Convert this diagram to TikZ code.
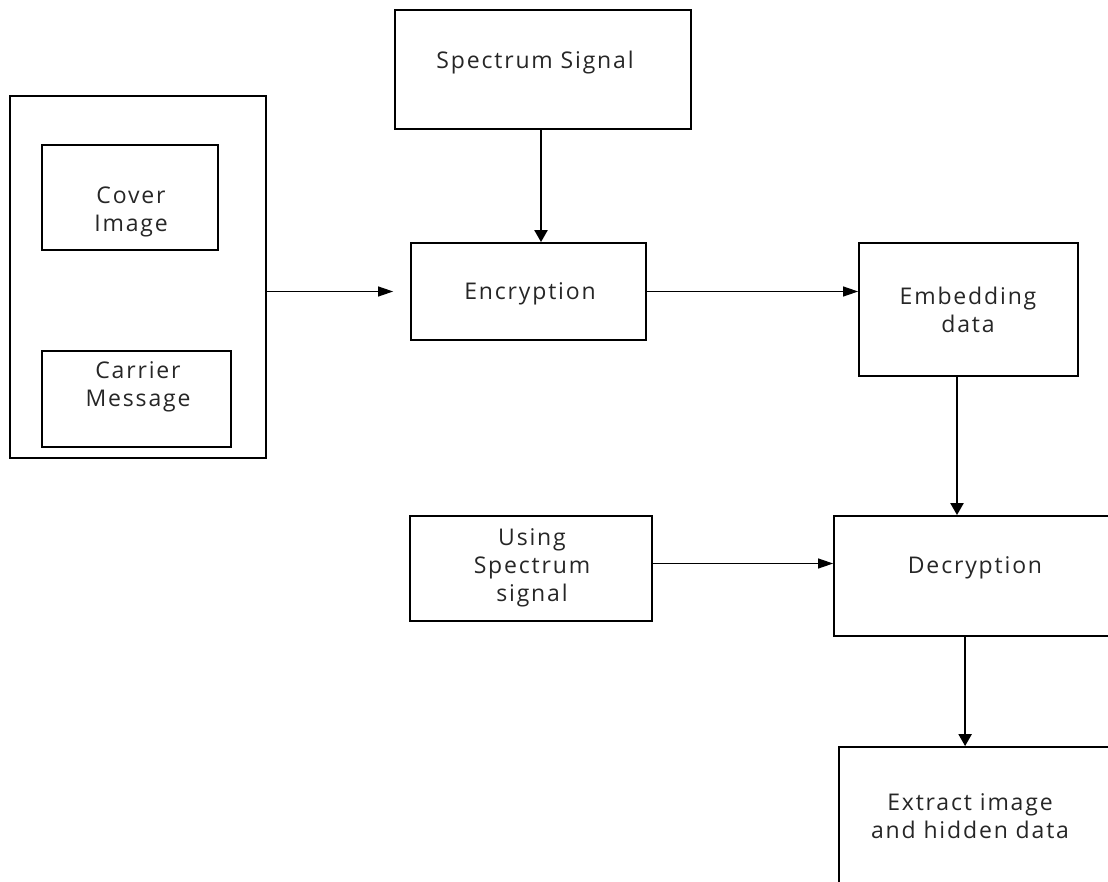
\documentclass[tikz,border=0pt]{standalone}
\usepackage{fontspec}
\setmainfont{Open Sans}[LetterSpace=8]
\usetikzlibrary{arrows.meta,calc}
\begin{document}
\begin{tikzpicture}[x=1pt,y=-1pt,
  box/.style={draw=black,line width=1.8pt,inner sep=0pt},
  txt/.style={align=center,font=\fontsize{23}{28}\selectfont,text=black!85,inner sep=0pt},
  thinarrow/.style={line width=1.1pt,-{Triangle[length=15pt,width=10pt]}},
  thickarrow/.style={line width=2.2pt,-{Triangle[length=12pt,width=13pt]}}]
\useasboundingbox (0,0) rectangle (1108,882);
% left group
\node[box,minimum width=256pt,minimum height=362pt] (outer) at (138,277) {};
\node[box,minimum width=176pt,minimum height=105pt] (cover) at (130,197.5) {};
\node[txt] (tcover) at (131,212) {Cover\\Image};
\node[box,minimum width=189pt,minimum height=96pt] (carrier) at (136.5,399) {};
\node[txt] (tcarrier) at (138,387) {Carrier\\Message};
% top
\node[box,minimum width=296pt,minimum height=119pt] (spec) at (543,69.5) {};
\node[txt] (tspec) at (535,63) {Spectrum Signal};
\node[box,minimum width=235pt,minimum height=97pt] (enc) at (528.5,291.5) {};
\node[txt] (tenc) at (530,294) {Encryption};
\node[box,minimum width=219pt,minimum height=133pt] (emb) at (968.5,309.5) {};
\node[txt] (temb) at (968,310) {Embedding\\data};
% lower
\node[box,minimum width=242pt,minimum height=105pt] (using) at (531,568.5) {};
\node[txt] (tusing) at (532,568) {Using\\Spectrum\\signal};
\node[box,minimum width=290pt,minimum height=120pt] (dec) at (979,576) {};
\node[txt] (tdec) at (975,568) {Decryption};
\node[box,minimum width=290pt,minimum height=160pt] (ext) at (984,827) {};
\node[txt] (text) at (970,816) {Extract image\\and hidden data};
% connectors
\draw[thinarrow,shorten >=17pt] (enc.west -| outer.east) -- (enc.west);
\draw[thickarrow] ([xshift=-2pt]spec.south) -- ([xshift=-2pt]spec.south |- enc.north);
\draw[thinarrow] (enc.east) -- (enc.east -| emb.west);
\draw[thickarrow] ([xshift=-11.5pt]emb.south) -- ([xshift=-11.5pt]emb.south |- dec.north);
\draw[thinarrow] ([yshift=5pt]using.east) -- ([yshift=5pt]using.east -| dec.west);
\draw[thickarrow] ([xshift=132pt]dec.south west) -- ([xshift=132pt]dec.south west |- ext.north);
\end{tikzpicture}
\end{document}
